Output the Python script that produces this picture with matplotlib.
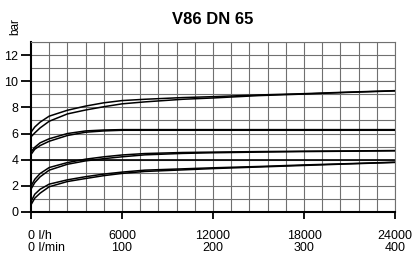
import matplotlib
matplotlib.use("Agg")
import matplotlib.pyplot as plt
import matplotlib.transforms as mtransforms

plt.rcParams['font.family'] = ['Liberation Sans', 'DejaVu Sans']

# Data
flow_lh = [0, 250, 600, 1200, 2400, 3600, 4800, 6000, 7500, 10000, 12000, 15000, 18000, 21000, 24000]

p1_upper = [6.1, 6.5, 6.87, 7.33, 7.78, 8.1, 8.35, 8.52, 8.62, 8.75, 8.82, 8.95, 9.05, 9.17, 9.28]
p1_lower = [5.75, 6.05, 6.43, 6.94, 7.5, 7.8, 8.05, 8.27, 8.42, 8.62, 8.72, 8.9, 9.02, 9.15, 9.26]

p2_upper = [4.6, 4.95, 5.29, 5.6, 6.0, 6.2, 6.27, 6.3, 6.3, 6.3, 6.3, 6.3, 6.3, 6.3, 6.3]
p2_lower = [4.4, 4.8, 5.08, 5.41, 5.85, 6.1, 6.2, 6.25, 6.25, 6.25, 6.25, 6.25, 6.25, 6.25, 6.25]

p3_upper = [1.98, 2.5, 2.94, 3.4, 3.78, 4.04, 4.22, 4.36, 4.47, 4.55, 4.58, 4.62, 4.65, 4.67, 4.7]
p3_lower = [1.75, 2.25, 2.69, 3.2, 3.65, 3.91, 4.08, 4.22, 4.37, 4.48, 4.53, 4.58, 4.62, 4.65, 4.68]

p4_upper = [0.8, 1.36, 1.74, 2.13, 2.46, 2.7, 2.9, 3.05, 3.2, 3.3, 3.38, 3.48, 3.6, 3.7, 3.81]
p4_lower = [0.55, 1.06, 1.44, 1.93, 2.33, 2.56, 2.78, 2.95, 3.1, 3.22, 3.32, 3.44, 3.56, 3.68, 3.79]

series = [p1_upper, p1_lower, p2_upper, p2_lower, p3_upper, p3_lower, p4_upper, p4_lower]

x_ticks = [0, 6000, 12000, 18000, 24000]
x_labels_lh = ["0 l/h", "6000", "12000", "18000", "24000"]
x_labels_lmin = ["0 l/min", "100", "200", "300", "400"]
y_ticks = [0, 2, 4, 6, 8, 10, 12]

fig = plt.figure(figsize=(4.16, 2.56), dpi=100)
ax = fig.add_axes([31/416, 1 - 212/256, (395 - 31)/416, (212 - 42)/256])

ax.set_xlim(0, 24000)
ax.set_ylim(0, 13)

# grid
for gx in range(1200, 24001, 1200):
    ax.axvline(gx, color='#707070', lw=0.8, zorder=1)
for gy in range(1, 14):
    ax.axhline(gy, color='#707070', lw=0.8, zorder=1)
ax.axhline(4, color='black', lw=1.2, zorder=2)

for s in series:
    ax.plot(flow_lh, s, color='black', lw=1.1, zorder=3, solid_capstyle='butt')

for side in ['top', 'right']:
    ax.spines[side].set_color('#707070')
    ax.spines[side].set_linewidth(0.8)
for side in ['left', 'bottom']:
    ax.spines[side].set_color('black')
    ax.spines[side].set_linewidth(1.5)

ax.set_yticks(y_ticks)
ax.set_yticklabels([str(v) for v in y_ticks])
ax.tick_params(axis='y', direction='out', length=7, width=1.3, pad=2, labelsize=9, colors='black')

labels = [a + "\n" + b for a, b in zip(x_labels_lh, x_labels_lmin)]
ax.set_xticks(x_ticks)
ax.set_xticklabels(labels, linespacing=0.95)
ax.tick_params(axis='x', direction='out', length=5, width=1.3, pad=8, labelsize=9, colors='black')
first = ax.get_xticklabels()[0]
first.set_ha('left')
first.set_multialignment('left')
first.set_transform(first.get_transform() + mtransforms.ScaledTranslation(-3/100, 0, fig.dpi_scale_trans))

fig.text(213/416, 1 - 19/256, "V86 DN 65", ha='center', va='center', fontsize=12, fontweight='bold')
fig.text(15/416, 1 - 27/256, "bar", ha='center', va='center', rotation=90, fontsize=8.5)

fig.savefig("out.png", dpi=100)
